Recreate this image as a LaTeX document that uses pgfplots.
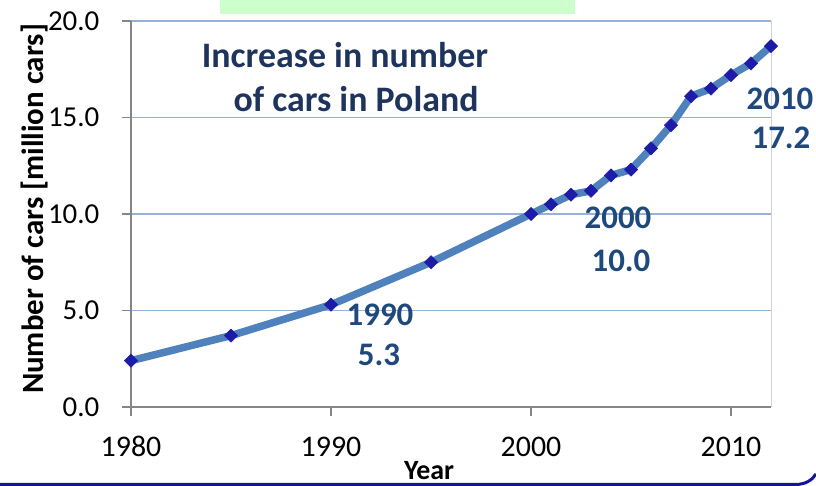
\documentclass[border=0pt]{standalone}
\usepackage{pgfplots}
\pgfplotsset{compat=1.18}
\usepackage{fontspec}
\setmainfont{Carlito}
\definecolor{titleblue}{RGB}{30,52,92}
\definecolor{annblue}{RGB}{31,73,125}
\definecolor{lineblue}{RGB}{79,129,189}
\definecolor{markblue}{RGB}{28,28,168}
\definecolor{gridblue}{RGB}{149,179,215}
\definecolor{axisgray}{RGB}{134,134,134}
\definecolor{bordergray}{RGB}{210,210,210}
\definecolor{boxgreen}{RGB}{204,255,204}
\definecolor{frameblue}{RGB}{20,20,150}
\begin{document}
\begin{tikzpicture}[x=1bp,y=1bp]
\useasboundingbox (0,0) rectangle (816,486);
\fill[boxgreen] (220,472) rectangle (575,486);
\begin{axis}[
  at={(131bp,79bp)}, anchor=south west,
  scale only axis, width=640bp, height=386bp,
  xmin=1980, xmax=2012, ymin=0, ymax=20,
  xtick={1980,1990,2000,2010}, ytick={0,5,10,15,20},
  axis x line*=bottom, axis y line*=left,
  axis line style={axisgray, line width=1.2bp, -},
  tick align=outside, major tick length=9.5bp,
  tick style={axisgray, line width=1.2bp},
  ymajorgrids, major grid style={gridblue, line width=1.3bp},
  /pgf/number format/assume math mode=true,
  xticklabel style={font=\fontsize{30}{30}\selectfont, anchor=base, inner sep=0pt, yshift=-40.5bp,
    /pgf/number format/.cd, set thousands separator={}},
  yticklabel style={font=\fontsize{29}{29}\selectfont, anchor=east, inner sep=0pt, xshift=-22bp,
    /pgf/number format/.cd, fixed, fixed zerofill, precision=1},
  clip=false,
]
\draw[bordergray, line width=1bp] (rel axis cs:1,0) -- (rel axis cs:1,1);
\addplot[lineblue, line width=7.5bp, line join=round,
  mark=square*, mark size=4.7bp, mark options={rotate=45, fill=markblue, draw=markblue, line width=0.5bp}]
  coordinates {
  (1980,2.4) (1985,3.7) (1990,5.3) (1995,7.5) (2000,10.0)
  (2001,10.5) (2002,11.0) (2003,11.2) (2004,12.0) (2005,12.3)
  (2006,13.4) (2007,14.6) (2008,16.1) (2009,16.5) (2010,17.2)
  (2011,17.8) (2012,18.7)
  };
\end{axis}
\begin{scope}[every node/.style={anchor=base, inner sep=0pt}]
\node[font=\bfseries\fontsize{36}{36}\selectfont, text=titleblue] at (345,418) {Increase in number};
\node[font=\bfseries\fontsize{36}{36}\selectfont, text=titleblue] at (356,374) {of cars in Poland};
\node[font=\bfseries\fontsize{33}{33}\selectfont, text=annblue] at (380,160) {1990};
\node[font=\bfseries\fontsize{33}{33}\selectfont, text=annblue] at (379,120) {5.3};
\node[font=\bfseries\fontsize{33}{33}\selectfont, text=annblue] at (618,257) {2000};
\node[font=\bfseries\fontsize{33}{33}\selectfont, text=annblue] at (621,214) {10.0};
\node[font=\bfseries\fontsize{33}{33}\selectfont, text=annblue] at (780,376) {2010};
\node[font=\bfseries\fontsize{33}{33}\selectfont, text=annblue] at (781,337) {17.2};
\node[rotate=90, font=\bfseries\fontsize{31}{31}\selectfont] at (43,277) {Number of cars [million cars]};
\node[font=\bfseries\fontsize{28}{28}\selectfont] at (429,6) {Year};
\end{scope}
\draw[frameblue, line width=3bp] (0,1.5) -- (795,1.5) .. controls (806,1.5) and (812,6) .. (816,12);
\end{tikzpicture}
\end{document}
